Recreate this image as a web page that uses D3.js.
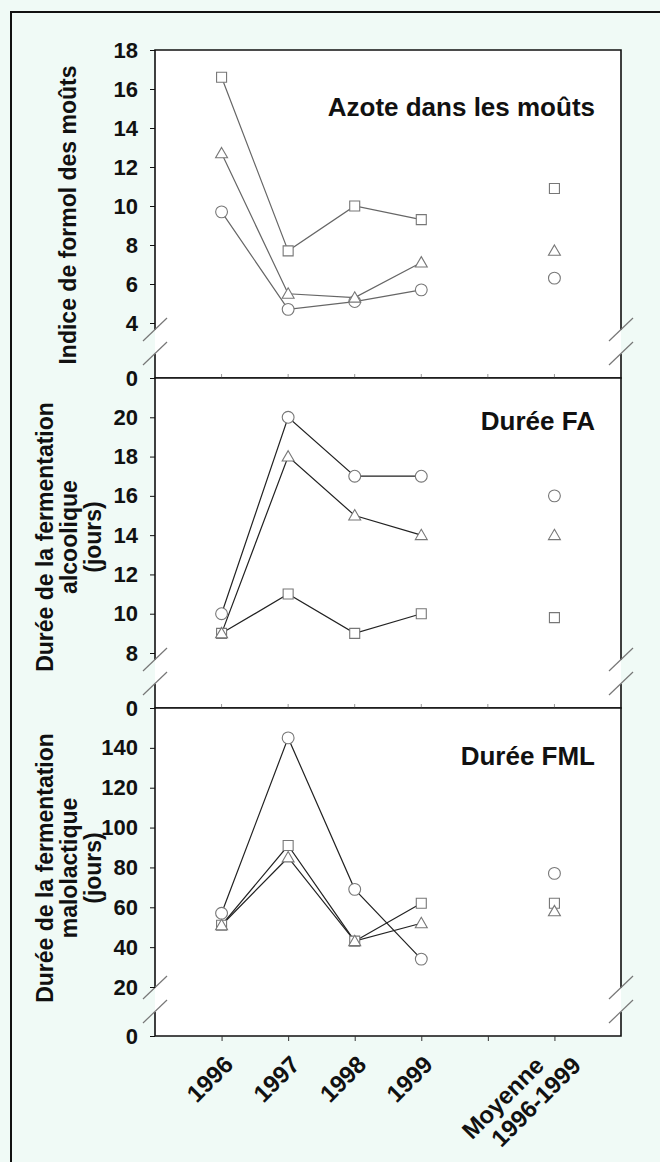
<!DOCTYPE html>
<html>
<head>
<meta charset="utf-8">
<script src="https://cdnjs.cloudflare.com/ajax/libs/d3/7.8.5/d3.min.js"></script>
<style>
  body { margin: 0; background: #f0faf6; }
  svg { display: block; }
  text { font-family: "Liberation Sans", Arial, sans-serif; font-weight: bold; fill: #111; }
</style>
</head>
<body>
<div id="chart"></div>
<script>
// categories
var years = ["1996", "1997", "1998", "1999"];
var meanLabel = ["Moyenne", "1996-1999"];

// Azote dans les moûts (indice de formol)
var azoteCircle = [9.7, 4.7, 5.1, 5.7], azoteCircleMean = 6.3;
var azoteTriangle = [12.7, 5.5, 5.3, 7.1], azoteTriangleMean = 7.7;
var azoteSquare = [16.6, 7.7, 10.0, 9.3], azoteSquareMean = 10.9;
var azoteTicks = [0, 4, 6, 8, 10, 12, 14, 16, 18];

// Durée FA (jours)
var faCircle = [10, 20, 17, 17], faCircleMean = 16;
var faTriangle = [9, 18, 15, 14], faTriangleMean = 14;
var faSquare = [9, 11, 9, 10], faSquareMean = 9.8;
var faTicks = [0, 8, 10, 12, 14, 16, 18, 20];

// Durée FML (jours)
var fmlCircle = [57, 145, 69, 34], fmlCircleMean = 77;
var fmlTriangle = [51, 85, 43, 52], fmlTriangleMean = 58;
var fmlSquare = [51, 91, 43, 62], fmlSquareMean = 62;
var fmlTicks = [0, 20, 40, 60, 80, 100, 120, 140];

var W = 660, H = 1162;
var left = 155, right = 621;

var svg = d3.select("#chart").append("svg").attr("width", W).attr("height", H);

// outer frame (runs off the picture to the right and bottom)
svg.append("path").attr("d", "M11," + H + "V12H" + W)
    .attr("fill", "none").attr("stroke", "#111").attr("stroke-width", 2);

var x = d3.scaleLinear().domain([0, 7]).range([left, right]);
var yearPos = [1, 2, 3, 4], meanPos = 6;

var panels = [
  {top: 50, bottom: 378, lo: 4, hi: 18, ticks: azoteTicks, line: "#666",
   title: "Azote dans les moûts", titleY: 116,
   ylabel: ["Indice de formol des moûts"], ylabelX: [76], ylabelY: 215,
   series: [
     {shape: "square", v: azoteSquare, m: azoteSquareMean},
     {shape: "circle", v: azoteCircle, m: azoteCircleMean},
     {shape: "triangle", v: azoteTriangle, m: azoteTriangleMean}]},
  {top: 378, bottom: 708, lo: 8, hi: 22, ticks: faTicks, line: "#222",
   title: "Durée FA", titleY: 430,
   ylabel: ["Durée de la fermentation", "alcoolique", "(jours)"], ylabelX: [53, 77, 101], ylabelY: 537,
   series: [
     {shape: "square", v: faSquare, m: faSquareMean},
     {shape: "circle", v: faCircle, m: faCircleMean},
     {shape: "triangle", v: faTriangle, m: faTriangleMean}]},
  {top: 708, bottom: 1036, lo: 20, hi: 160, ticks: fmlTicks, line: "#222",
   title: "Durée FML", titleY: 765,
   ylabel: ["Durée de la fermentation", "malolactique", "(jours)"], ylabelX: [53, 77, 101], ylabelY: 868,
   series: [
     {shape: "square", v: fmlSquare, m: fmlSquareMean},
     {shape: "circle", v: fmlCircle, m: fmlCircleMean},
     {shape: "triangle", v: fmlTriangle, m: fmlTriangleMean}]}
];

var gapTop = 48, gapBottom = 24;

panels.forEach(function(p, i) {
  var lowPx = p.bottom - (i == 2 ? 49 : 55);
  var y = d3.scaleLinear().domain([p.lo, p.hi]).range([lowPx, p.top]);
  var y0 = d3.scaleLinear().domain([0, 1]).range([p.bottom, p.bottom - 1]);
  var g = svg.append("g");

  g.append("rect").attr("x", left).attr("y", p.top).attr("width", right - left)
      .attr("height", p.bottom - p.top).attr("fill", "#fff");

  // frame with break gaps on both sides
  var bt = p.bottom - gapTop, bb = p.bottom - gapBottom;
  g.append("path")
      .attr("d", "M" + left + "," + bt + "V" + p.top + "H" + right + "V" + bt +
                 "M" + right + "," + bb + "V" + p.bottom + "H" + left + "V" + bb)
      .attr("fill", "none").attr("stroke", "#111").attr("stroke-width", 1.6);

  [left, right].forEach(function(cx) {
    [bt, bb].forEach(function(cy) {
      g.append("line").attr("x1", cx - 12).attr("y1", cy + 11).attr("x2", cx + 12).attr("y2", cy - 12)
          .attr("stroke", "#777").attr("stroke-width", 1.2);
    });
  });

  var ax = g.append("g").attr("transform", "translate(" + left + ",0)")
      .call(d3.axisLeft(y).tickValues(p.ticks.filter(function(t) { return t > 0; }))
        .tickFormat(d3.format("d")).tickSize(5).tickPadding(12));
  var ax0 = g.append("g").attr("transform", "translate(" + left + ",0)")
      .call(d3.axisLeft(y0).tickValues([0]).tickFormat(d3.format("d")).tickSize(5).tickPadding(12));
  [ax, ax0].forEach(function(a) {
    a.select(".domain").remove();
    a.selectAll("line").attr("stroke", "#111");
    a.selectAll("text").attr("font-size", 22).attr("font-family", null).attr("fill", "#111");
  });

  // category ticks on panel bottom
  var cats = d3.range(1, 7);
  if (i < 2) {
    g.selectAll(".ct").data(cats).enter().append("line")
        .attr("x1", function(d) { return x(d); }).attr("x2", function(d) { return x(d); })
        .attr("y1", p.bottom).attr("y2", p.bottom - 4).attr("stroke", "#999");
  } else {
    var xa = g.append("g").attr("transform", "translate(0," + p.bottom + ")")
        .call(d3.axisBottom(x).tickValues(cats).tickSize(5).tickFormat(""));
    xa.select(".domain").remove();
    xa.selectAll("line").attr("stroke", "#333");
  }

  g.append("text").attr("x", 595).attr("y", p.titleY).attr("text-anchor", "end")
      .attr("font-size", 26).text(p.title);

  var yl = g.append("text").attr("font-size", 23).attr("text-anchor", "middle")
      .attr("transform", "translate(0," + p.ylabelY + ") rotate(-90)");
  p.ylabel.forEach(function(s, k) {
    yl.append("tspan").attr("x", 0).attr("y", p.ylabelX[k]).text(s);
  });

  var line = d3.line().x(function(d, k) { return x(yearPos[k]); }).y(function(d) { return y(d); });

  p.series.forEach(function(s) {
    g.append("path").datum(s.v).attr("d", line).attr("fill", "none")
        .attr("stroke", p.line).attr("stroke-width", 1.2);
  });

  p.series.forEach(function(s) {
    var pts = s.v.map(function(v, k) { return {x: x(yearPos[k]), y: y(v)}; });
    pts.push({x: x(meanPos), y: y(s.m)});
    var sym = s.shape == "square" ? d3.symbolSquare : s.shape == "circle" ? d3.symbolCircle : d3.symbolTriangle;
    var size = s.shape == "square" ? 100 : s.shape == "circle" ? 110 : 62;
    g.selectAll(null).data(pts).enter().append("path")
        .attr("d", d3.symbol().type(sym).size(size))
        .attr("transform", function(d) { return "translate(" + d.x + "," + (d.y + (s.shape == "triangle" ? 1 : 0)) + ")"; })
        .attr("fill", "#fff").attr("stroke", "#777").attr("stroke-width", 1.1);
  });
});

// x labels
var xb = 1036;
svg.selectAll(".yl").data(years).enter().append("text")
    .attr("font-size", 24).attr("text-anchor", "end")
    .attr("transform", function(d, k) { return "translate(" + (x(yearPos[k]) + 13) + "," + (xb + 30) + ") rotate(-45)"; })
    .text(function(d) { return d; });

svg.append("text").attr("font-size", 24).attr("text-anchor", "end")
    .attr("transform", "translate(" + (x(meanPos) - 9) + "," + (xb + 31) + ") rotate(-45)")
    .text(meanLabel[0]);
svg.append("text").attr("font-size", 24).attr("text-anchor", "end")
    .attr("transform", "translate(" + (x(meanPos) + 28) + "," + (xb + 31) + ") rotate(-45)")
    .text(meanLabel[1]);
</script>
</body>
</html>
